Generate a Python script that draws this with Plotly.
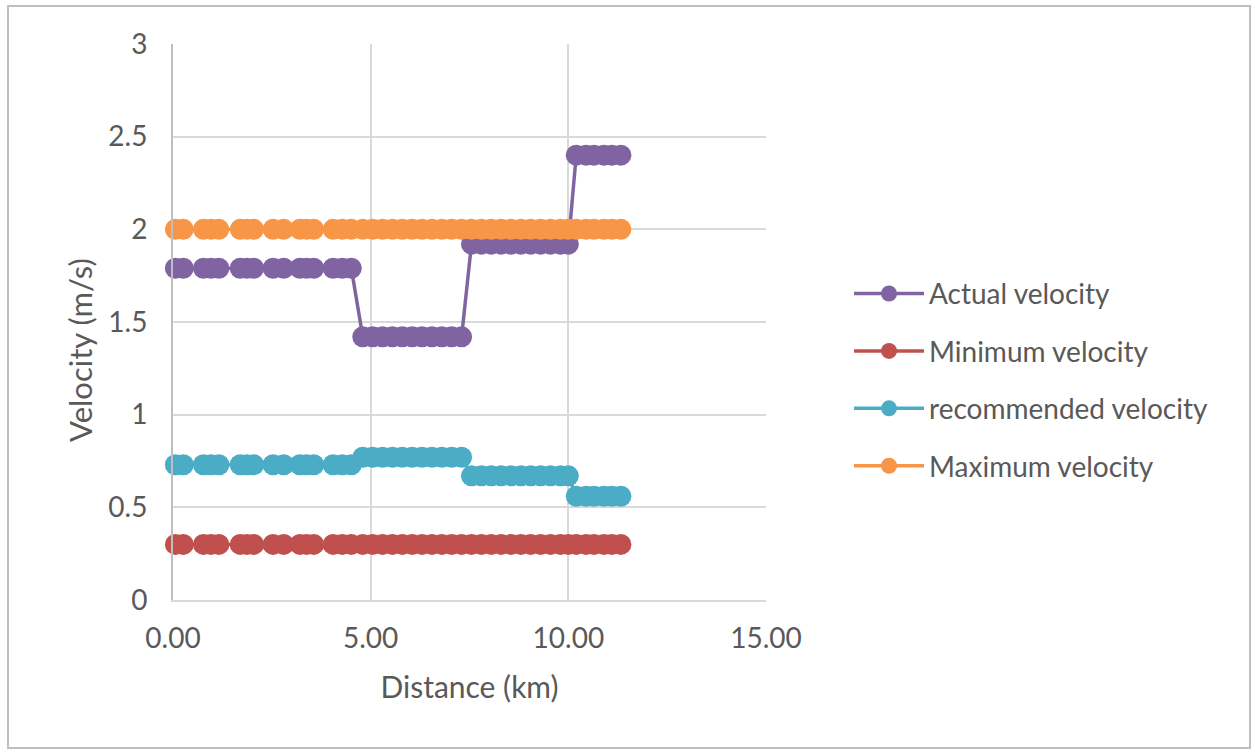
import plotly.graph_objects as go

distance_km = [0.06, 0.26, 0.77, 0.96, 1.16, 1.70, 1.87, 2.04, 2.53, 2.80, 3.21, 3.38, 3.56,
               4.05, 4.28, 4.51, 4.8, 5.05, 5.3, 5.55, 5.8, 6.05, 6.3, 6.55, 6.8, 7.05,
               7.3, 7.55, 7.8, 8.05, 8.3, 8.55, 8.8, 9.05, 9.3, 9.55, 9.8, 10.0, 10.2,
               10.45, 10.65, 10.9, 11.1, 11.33]

actual_velocity = [1.79] * 16 + [1.42] * 11 + [1.92] * 11 + [2.40] * 6
minimum_velocity = [0.30] * 44
recommended_velocity = [0.73] * 16 + [0.77] * 11 + [0.67] * 11 + [0.56] * 6
maximum_velocity = [2.0] * 44

series_names = ["Actual velocity", "Minimum velocity", "recommended velocity", "Maximum velocity"]
series_values = [actual_velocity, minimum_velocity, recommended_velocity, maximum_velocity]
series_colors = ["#8064A2", "#C0504D", "#4BACC6", "#F79646"]

x_ticks = [0, 5, 10, 15]
y_ticks = [0, 0.5, 1, 1.5, 2, 2.5, 3]

FONT = "Lato, 'Open Sans', sans-serif"
TXT = "#595959"

fig = go.Figure()
for i, (name, vals, col) in enumerate(zip(series_names, series_values, series_colors)):
    fig.add_trace(go.Scatter(
        x=distance_km, y=vals, name=name, mode="lines+markers",
        line=dict(color=col, width=3.5),
        marker=dict(color=col, size=21),
        cliponaxis=False, legendgroup=f"g{i}",
    ))

fig.update_layout(
    width=1255, height=753,
    margin=dict(l=173, r=489, t=44, b=153, autoexpand=False),
    paper_bgcolor="white", plot_bgcolor="white",
    font=dict(family=FONT, color=TXT, size=28),
    showlegend=True,
    legend=dict(x=1.14, y=0.396, xanchor="left", yanchor="middle",
                font=dict(size=28, color=TXT, family=FONT),
                itemwidth=70,
                tracegroupgap=18, bgcolor="rgba(0,0,0,0)"),
    xaxis=dict(range=[0, 15], tickvals=x_ticks, tickformat=".2f",
               showgrid=True, gridcolor="#d9d9d9", gridwidth=2,
               showline=True, linecolor="#d9d9d9", linewidth=2, zeroline=False,
               ticks="", tickfont=dict(size=28, color=TXT), ticklabelstandoff=12,
               automargin=False,
               title=dict(text="Distance (km)", font=dict(size=30, color=TXT), standoff=24)),
    yaxis=dict(range=[0, 3], tickvals=y_ticks,
               showgrid=True, gridcolor="#d9d9d9", gridwidth=2,
               showline=True, linecolor="#bfbfbf", linewidth=2, zeroline=False,
               ticks="", tickfont=dict(size=28, color=TXT), ticklabelstandoff=18,
               automargin=False),
    annotations=[dict(text="Velocity (m/s)", textangle=-90, xref="paper", yref="paper",
                      x=(80 - 173) / 593, y=(600 - 350) / 556, xanchor="center", yanchor="middle",
                      showarrow=False, font=dict(size=31, color=TXT, family=FONT))],
    shapes=[dict(type="rect", xref="paper", yref="paper",
                 x0=(8 - 173) / 593, x1=(1250 - 173) / 593,
                 y0=(600 - 748) / 556, y1=(600 - 6) / 556,
                 line=dict(color="#bfbfbf", width=2), fillcolor="rgba(0,0,0,0)", layer="below")],
)

fig.write_html("out.html")
